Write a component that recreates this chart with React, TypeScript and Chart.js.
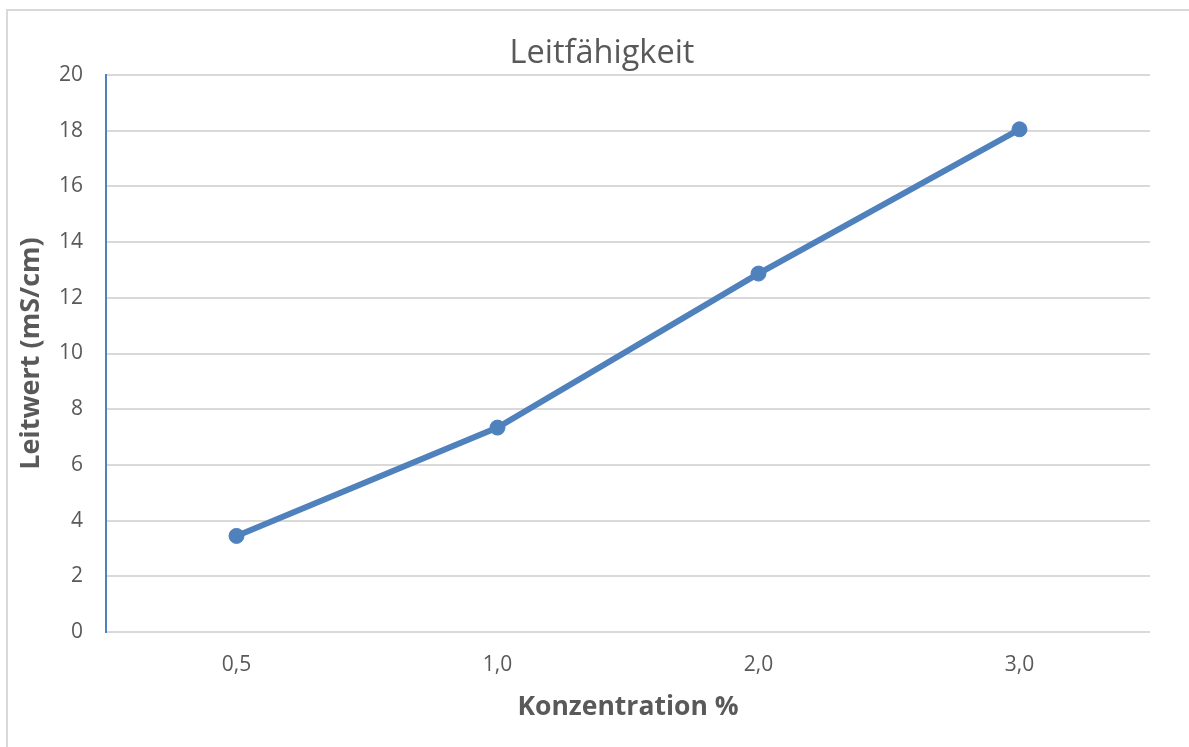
import React, { useEffect, useRef } from "react";
import { Chart, registerables } from "chart.js";

Chart.register(...registerables);

const categories = ["0,5", "1,0", "2,0", "3,0"];
const leitwert = [3.45, 7.34, 12.87, 18.05];
const chartTitle = "Leitfähigkeit";
const xTitle = "Konzentration %";
const yTitle = "Leitwert (mS/cm)";

const W = 1189;
const H = 747;
const CW = 1204;
const FONT = "'Open Sans', sans-serif";
const TEXT = "#595959";
const BLUE = "#4f81bd";
const GRID = "#d9d9d9";

export default function App() {
  const ref = useRef<HTMLCanvasElement | null>(null);

  useEffect(() => {
    if (!ref.current) return;
    const chart = new Chart(ref.current, {
      type: "line",
      data: {
        labels: categories,
        datasets: [
          {
            label: yTitle,
            data: leitwert,
            borderColor: BLUE,
            backgroundColor: BLUE,
            borderWidth: 6,
            pointRadius: 7.5,
            pointBorderWidth: 1,
            pointBackgroundColor: BLUE,
            pointBorderColor: BLUE,
            tension: 0,
            yAxisID: "y",
          },
        ],
      },
      options: {
        responsive: false,
        animation: false,
        layout: { padding: 0 },
        plugins: {
          legend: { display: false },
          tooltip: { enabled: false },
          title: {
            display: true,
            text: chartTitle,
            color: TEXT,
            font: { family: FONT, size: 32.5, weight: "normal" },
            padding: { top: 34.5, bottom: 1.5 },
          },
        },
        scales: {
          x: {
            type: "category",
            offset: true,
            grid: { display: false, drawTicks: false },
            border: { display: false },
            ticks: {
              color: TEXT,
              font: { family: FONT, size: 21 },
              padding: 20,
              maxRotation: 0,
            },
            title: {
              display: true,
              text: xTitle,
              color: TEXT,
              font: { family: FONT, size: 26.5, weight: "bold" },
              padding: { top: 0, bottom: 24 },
            },
            afterFit: (scale: any) => {
              scale.height = 115;
            },
          },
          y: {
            min: 0,
            max: 20,
            ticks: {
              stepSize: 2,
              color: TEXT,
              font: { family: FONT, size: 21 },
              padding: 23,
            },
            grid: { color: GRID, lineWidth: 2, drawTicks: false },
            border: { display: true, color: BLUE, width: 2 },
            title: {
              display: true,
              text: yTitle,
              color: TEXT,
              font: { family: FONT, size: 27, weight: "bold" },
              padding: { top: 15.5, bottom: 0 },
            },
            afterFit: (scale: any) => {
              scale.width = 106;
            },
          },
          spacer: {
            type: "linear",
            position: "right",
            display: true,
            grid: { display: false, drawTicks: false },
            border: { display: false },
            ticks: { display: false },
            afterFit: (scale: any) => {
              scale.width = CW - 1150;
            },
          },
        },
      },
    });
    return () => chart.destroy();
  }, []);

  return (
    <div
      style={{
        position: "fixed",
        left: 0,
        top: 0,
        width: W,
        height: H,
        overflow: "hidden",
        background: "#fff",
      }}
    >
      <div
        style={{
          position: "absolute",
          left: 6,
          top: 9,
          width: W + 20,
          height: H + 20,
          border: "2px solid #d9d9d9",
          boxSizing: "border-box",
        }}
      />
      <canvas
        ref={ref}
        width={CW}
        height={H}
        style={{ position: "absolute", left: 0, top: 0, width: CW, height: H }}
      />
    </div>
  );
}
